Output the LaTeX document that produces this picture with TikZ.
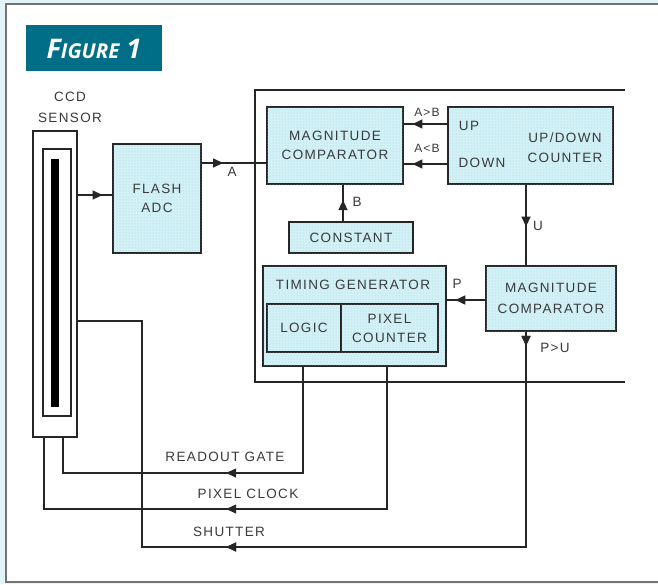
\documentclass[tikz,border=0pt]{standalone}
\usepackage{fontspec}
\setmainfont{Liberation Sans}[LetterSpace=10]
\newfontfamily\figfont{Open Sans}
\usetikzlibrary{arrows.meta,decorations.markings,patterns}
\definecolor{boxfill}{RGB}{210,242,247}
\definecolor{tealbox}{RGB}{0,110,135}
\definecolor{txt}{RGB}{58,58,58}
\definecolor{bgc}{RGB}{226,244,247}
\definecolor{dotc}{RGB}{165,200,218}
\begin{document}
\begin{tikzpicture}[x=1pt,y=-1pt,
  blk/.style={draw=black!85, line width=1.6pt, fill=boxfill, inner sep=0pt, align=center,
     text=txt, font=\fontsize{13.5}{19}\selectfont,
     postaction={pattern=dots, pattern color=dotc}},
  plain/.style={draw=black!85, line width=1.6pt, fill=white, inner sep=0pt},
  lbl/.style={text=txt, font=\fontsize{13.5}{16}\selectfont, inner sep=0pt},
  wire/.style={draw=black!85, line width=1.4pt},
  tipa/.style={decoration={markings, mark=at position #1 with {\arrow{Triangle[length=10pt,width=9pt]}}}, postaction={decorate}},
]
\useasboundingbox (0,0) rectangle (658,584);
% outer frame
\fill[bgc] (0,0) rectangle (658,584);
\fill[white] (6,4) rectangle (658,582);
\draw[black!55, line width=1.2pt] (658,4) -- (6,4) -- (6,582) -- (658,582);

% figure label
\node[fill=tealbox, minimum width=136pt, minimum height=46pt, inner sep=0pt] (figbox) at (94,48) {};
\node[text=white, inner sep=0pt] (figtxt) at (94,49)
  {\figfont\bfseries\itshape{\fontsize{27}{27}\selectfont F}{\fontsize{20.5}{20.5}\selectfont IGURE}\fontsize{27}{27}\selectfont\ 1};

% CCD sensor
\node[lbl] (ccdlab1) at (70,97) {CCD};
\node[lbl] (ccdlab2) at (70,118) {SENSOR};
\node[plain, minimum width=44pt, minimum height=306pt] (ccd) at (55,284) {};
\node[plain, line width=1.4pt, minimum width=28pt, minimum height=267pt] (ccdin) at (57,282.5) {};
\node[fill=black, inner sep=0pt, minimum width=8pt, minimum height=248pt] (ccdbar) at (55,283) {};

% inner big frame
\draw[wire, line width=1.6pt] (625,90) -| (255,382) -- (625,382);

% blocks
\node[blk, minimum width=88pt, minimum height=109pt] (flash) at (157,198.5) {FLASH\\ADC};
\node[blk, minimum width=136pt, minimum height=77pt] (mc1) at (335,145.5) {MAGNITUDE\\COMPARATOR};
\node[blk, minimum width=165pt, minimum height=77pt] (udc) at (530.5,145.5) {};
\node[lbl] (udc1) at (565,138) {UP/DOWN};
\node[lbl] (udc2) at (565,158) {COUNTER};
\node[lbl] (up) at (469,126) {UP};
\node[lbl] (down) at (482,163) {DOWN};
\node[blk, minimum width=124pt, minimum height=31pt] (const) at (351,237.5) {CONSTANT};
\node[blk, minimum width=183pt, minimum height=100pt] (tg) at (354.5,316) {};
\node[lbl] (tglab) at (353,285) {TIMING GENERATOR};
\node[blk, minimum width=74pt, minimum height=48pt] (logic) at (304,328) {LOGIC};
\node[blk, minimum width=97pt, minimum height=48pt] (pixc) at (389.5,328) {PIXEL\\COUNTER};
\node[blk, minimum width=130pt, minimum height=65pt, font=\fontsize{13.5}{21}\selectfont] (mc2) at (551,298.5) {MAGNITUDE\\COMPARATOR};

% connectors
\draw[wire, tipa=0.72] (ccd.east |- 0,195) -- (flash.west |- 0,195);
\draw[wire, tipa=0.33] (flash.east |- 0,163) -- (mc1.west |- 0,163);
\draw[wire, tipa=0.8] (udc.west |- 0,124) -- (mc1.east |- 0,124);
\draw[wire, tipa=0.8] (udc.west |- 0,164) -- (mc1.east |- 0,164);
\draw[wire, tipa=0.58] (const.north -| 343,0) -- (mc1.south -| 343,0);
\draw[wire, tipa=0.52] (udc.south -| 526,0) -- (mc2.north -| 526,0);
\draw[wire, tipa=0.78] (mc2.west |- 0,300) -- (tg.east |- 0,300);
\draw[wire, tipa=14pt, tipa=515pt] (mc2.south -| 526,0) -- (526,547) -- (142,547) -- (142,321) -- (ccd.east |- 0,321);
\draw[wire, tipa=183pt] (tg.south -| 303,0) -- (303,473) -- (63,473) -- (ccd.south -| 63,0);
\draw[wire, tipa=303pt] (tg.south -| 387,0) -- (387,509) -- (44,509) -- (ccd.south -| 44,0);

% connector labels
\node[lbl] (la) at (232,172) {A};
\node[lbl, font=\fontsize{12}{14}\selectfont] (lagb) at (427,112) {A>B};
\node[lbl, font=\fontsize{12}{14}\selectfont] (lalb) at (427,148) {A<B};
\node[lbl] (lb) at (357,202) {B};
\node[lbl] (lu) at (538,226) {U};
\node[lbl] (lp) at (457,284) {P};
\node[lbl] (lpu) at (555,348) {P>U};
\node[lbl] (lrg) at (225,457) {READOUT GATE};
\node[lbl] (lpc) at (248,494) {PIXEL CLOCK};
\node[lbl] (lsh) at (229,532) {SHUTTER};
\end{tikzpicture}
\end{document}
